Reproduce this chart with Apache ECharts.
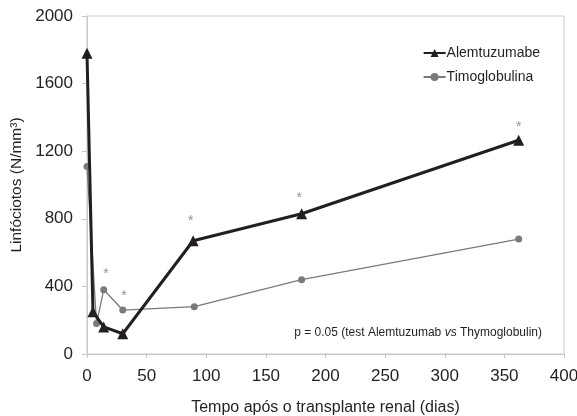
<!DOCTYPE html>
<html>
<head>
<meta charset="utf-8">
<script src="https://cdn.jsdelivr.net/npm/echarts@6/dist/echarts.min.js"></script>
<style>
  html, body { margin: 0; padding: 0; background: #fff; }
  #chart { width: 577px; height: 416px; }
</style>
</head>
<body>
<div id="chart"></div>
<script>
// dias após o transplante
var alemDias = [0, 5, 14, 30, 89, 180, 362];
var alemValores = [1780, 250, 160, 120, 670, 830, 1265];
var timoDias = [0, 8, 14, 30, 90, 180, 362];
var timoValores = [1110, 180, 380, 260, 280, 440, 680];
// asteriscos de significância
var asterDias = [16, 31, 87, 178, 362];
var asterValores = [470, 345, 785, 925, 1345];

var fonte = '"Liberation Sans", Arial, sans-serif';
var chart = echarts.init(document.getElementById('chart'));

function pares(xs, ys) {
  return xs.map(function(x, i) { return [x, ys[i]]; });
}

var option = {
  animation: false,
  grid: {
    left: 87, right: 13, top: 16, bottom: 62,
    outerBoundsMode: 'none',
    containLabel: false,
    show: true,
    borderColor: '#c8c8c8',
    borderWidth: 1
  },
  legend: {
    right: 32,
    top: 41,
    orient: 'vertical',
    itemGap: 10,
    itemWidth: 22,
    itemHeight: 10,
    textStyle: { fontFamily: fonte, fontSize: 14, color: '#231f20', padding: [0, 0, 0, -4] },
    data: ['Alemtuzumabe', 'Timoglobulina']
  },
  xAxis: {
    type: 'value',
    min: 0, max: 400, interval: 50,
    name: 'Tempo após o transplante renal (dias)',
    nameLocation: 'middle',
    nameGap: 46,
    nameTextStyle: { fontFamily: fonte, fontSize: 16, color: '#231f20' },
    axisLine: { show: true, lineStyle: { color: '#c8c8c8' } },
    axisTick: { show: true, length: 4, lineStyle: { color: '#c8c8c8' } },
    axisLabel: { fontFamily: fonte, fontSize: 17, color: '#231f20', margin: 14 },
    splitLine: { show: false }
  },
  yAxis: {
    type: 'value',
    min: 0, max: 2000, interval: 400,
    name: 'Linfóciotos (N/mm³)',
    nameLocation: 'middle',
    nameGap: 55,
    nameTextStyle: { fontFamily: fonte, fontSize: 15.5, color: '#231f20' },
    axisLine: { show: true, lineStyle: { color: '#c8c8c8' } },
    axisTick: { show: true, length: 5, lineStyle: { color: '#c8c8c8' } },
    axisLabel: {
      fontFamily: fonte, fontSize: 17, color: '#231f20', margin: 14,
      formatter: function(v) { return String(v); }
    },
    splitLine: { show: false }
  },
  series: [{
    name: 'Timoglobulina',
    type: 'line',
    data: pares(timoDias, timoValores),
    symbol: 'circle',
    symbolSize: 7,
    z: 2,
    lineStyle: { color: '#7a7a7a', width: 1.3 },
    itemStyle: { color: '#7a7a7a' }
  }, {
    name: 'Alemtuzumabe',
    type: 'line',
    data: pares(alemDias, alemValores),
    symbol: 'triangle',
    symbolSize: 11,
    z: 3,
    lineStyle: { color: '#231f20', width: 3 },
    itemStyle: { color: '#231f20' }
  }, {
    name: 'asteriscos',
    type: 'scatter',
    data: pares(asterDias, asterValores),
    symbolSize: 0,
    silent: true,
    label: {
      show: true,
      position: 'inside',
      formatter: '*',
      fontFamily: fonte,
      fontSize: 14,
      color: '#777'
    }
  }],
  graphic: [{
    type: 'text',
    right: 35,
    top: 327,
    style: {
      text: '{n|p = 0.05 (test Alemtuzumab }{i|vs}{n| Thymoglobulin)}',
      rich: {
        n: { fontFamily: fonte, fontSize: 12, fill: '#231f20' },
        i: { fontFamily: fonte, fontSize: 12, fontStyle: 'italic', fill: '#231f20' }
      }
    }
  }]
};
chart.setOption(option);
</script>
</body>
</html>
